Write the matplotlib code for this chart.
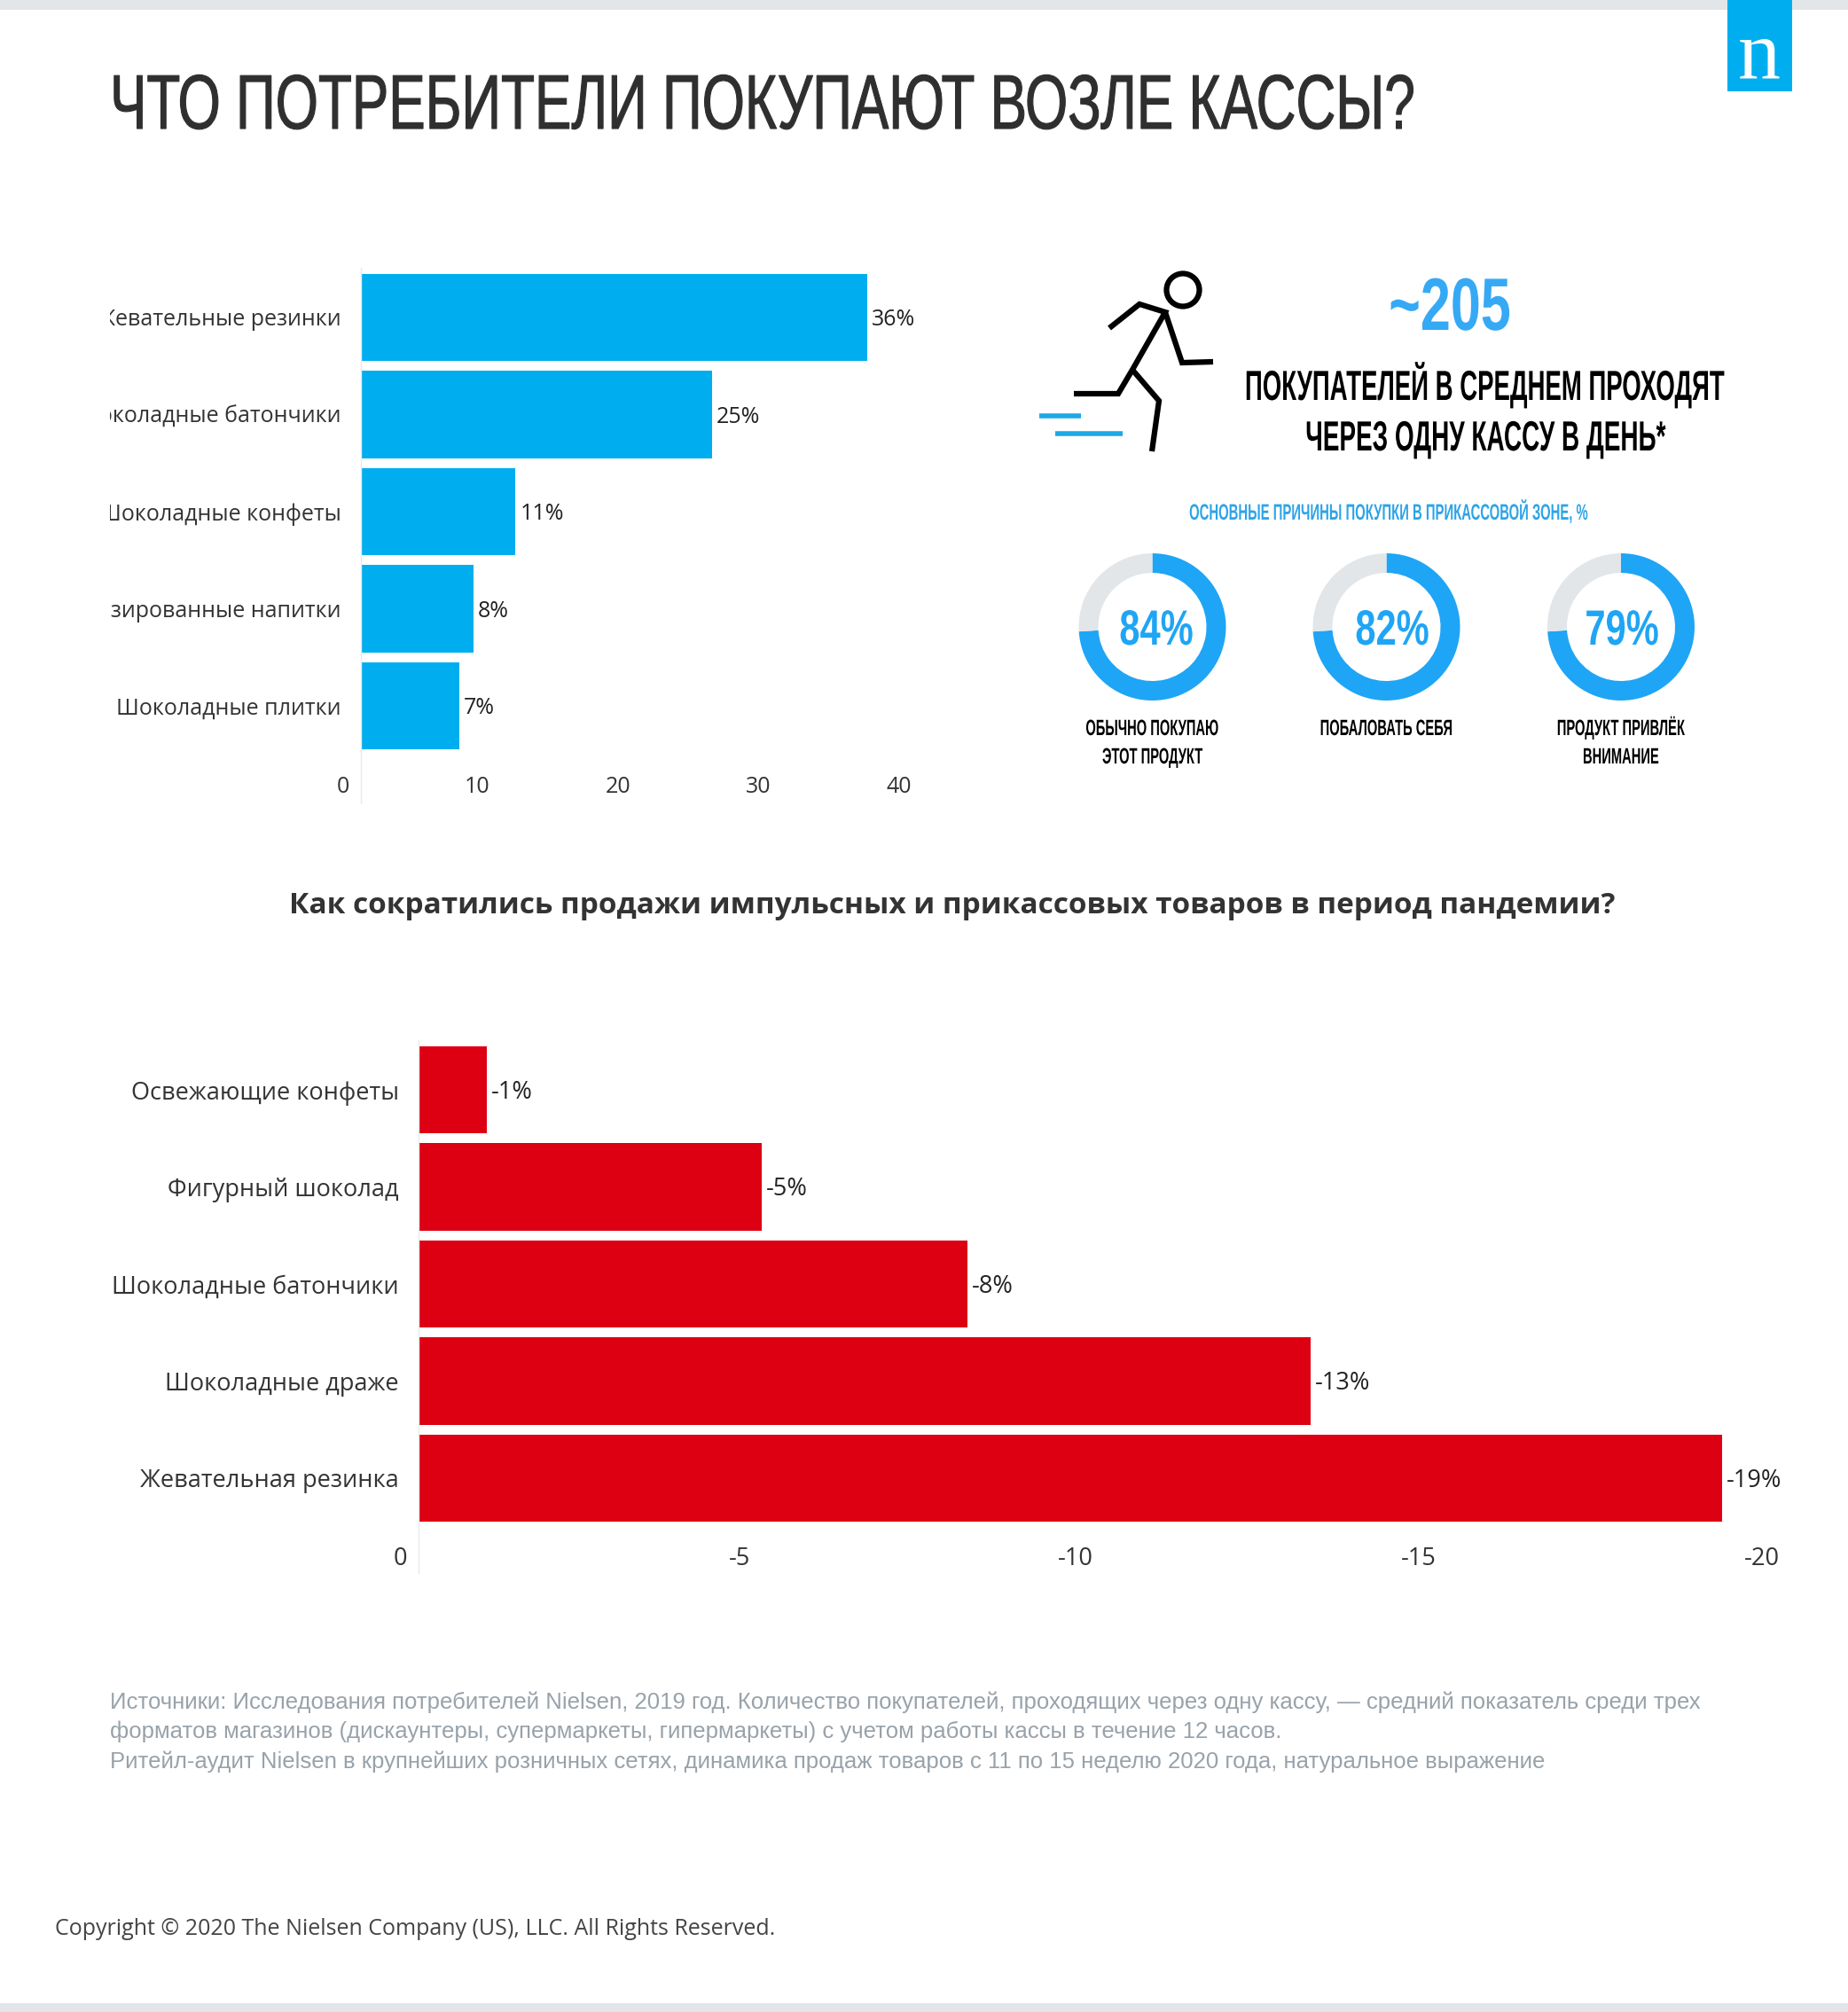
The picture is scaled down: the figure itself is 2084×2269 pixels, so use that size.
import matplotlib
matplotlib.use('Agg')
import matplotlib.pyplot as plt
import matplotlib.patheffects as pe
from matplotlib.patches import Rectangle, Circle
from matplotlib.transforms import Affine2D, Bbox, ScaledTranslation, IdentityTransform, TransformedBbox

W, H = 2084, 2269

# top chart
top_labels = ['Жевательные резинки', 'Шоколадные батончики', 'Шоколадные конфеты',
              'Газированные напитки', 'Шоколадные плитки']
top_values = [36, 25, 11, 8, 7]
top_ticks = [0, 10, 20, 30, 40]

# bottom chart
low_labels = ['Освежающие конфеты', 'Фигурный шоколад', 'Шоколадные батончики',
              'Шоколадные драже', 'Жевательная резинка']
low_values = [-1, -5, -8, -13, -19]
low_ticks = [0, -5, -10, -15, -20]

# donuts
ring_labels = ['84%', '82%', '79%']
ring_fill = [74, 74, 74]   # the rings are drawn the same in the original
ring_caption = [['ОБЫЧНО ПОКУПАЮ', 'ЭТОТ ПРОДУКТ'], ['ПОБАЛОВАТЬ СЕБЯ'], ['ПРОДУКТ ПРИВЛЁК', 'ВНИМАНИЕ']]

BLUE = '#00aeef'
RED = '#dd0012'
RING = '#1fa5f5'
SANS = 'Liberation Sans'

plt.rcParams['font.family'] = ['Open Sans', 'DejaVu Sans']

fig = plt.figure(figsize=(W / 100, H / 100), dpi=100, facecolor='white')


class Tall(pe.AbstractPathEffect):
    # no condensed font here, so small text is stretched up from its baseline
    def __init__(self, k, stroke=0):
        super().__init__()
        self.k = k
        self.stroke = stroke

    def draw_path(self, renderer, gc, tpath, affine, rgbFace=None):
        gc0 = renderer.new_gc()
        gc0.copy_properties(gc)
        gc0.set_linewidth(self.stroke)
        if self.stroke:
            gc0.set_foreground(rgbFace)
        renderer.draw_path(gc0, tpath, Affine2D().scale(1, self.k) + affine, rgbFace)
        gc0.restore()


def px_axes(x0, y0, x1, y1):
    return fig.add_axes([x0 / W, 1 - y1 / H, (x1 - x0) / W, (y1 - y0) / H])


# background layer in pixels
bg = fig.add_axes([0, 0, 1, 1], zorder=-1)
bg.set_xlim(0, W)
bg.set_ylim(H, 0)
bg.axis('off')


def tall(x, y, s, size, k, color='black', weight='bold', ha='center', stroke=0):
    bg.text(x, y, s, fontsize=size, fontweight=weight, family=SANS, color=color, ha=ha,
            va='baseline', path_effects=[Tall(k, stroke)])


bg.add_patch(Rectangle((0, 0), W, 11, color='#e2e6e9', lw=0))
bg.add_patch(Rectangle((0, 2259), W, 10, color='#e2e6e9', lw=0))
bg.add_patch(Rectangle((1948, 0), 73, 103, color=BLUE, lw=0))
bg.text(1984, 89, 'n', color='white', fontsize=69, family='Liberation Serif', ha='center', va='baseline')

tall(124, 145, 'ЧТО ПОТРЕБИТЕЛИ ПОКУПАЮТ ВОЗЛЕ КАССЫ?', 44.7, 1.4, color='#2f2f2f',
     weight='normal', ha='left', stroke=0.8)
bg.text(1074, 1022, 'Как сократились продажи импульсных и прикассовых товаров в период пандемии?',
        fontsize=24, fontweight='bold', color='#333333', ha='center', va='center')

bg.text(124, 1920, 'Источники: Исследования потребителей Nielsen, 2019 год. Количество покупателей, '
        'проходящих через одну кассу, — средний показатель среди трех', fontsize=18.5,
        family=SANS, color='#98a2aa', va='center')
bg.text(124, 1953, 'форматов магазинов (дискаунтеры, супермаркеты, гипермаркеты) с учетом работы кассы '
        'в течение 12 часов.', fontsize=18.5, family=SANS, color='#98a2aa', va='center')
bg.text(124, 1987, 'Ритейл-аудит Nielsen в крупнейших розничных сетях, динамика продаж товаров '
        'с 11 по 15 неделю 2020 года, натуральное выражение', fontsize=18.5,
        family=SANS, color='#98a2aa', va='center')
bg.text(62, 2175, 'Copyright © 2020 The Nielsen Company (US), LLC. All Rights Reserved.',
        fontsize=18, color='#444444', va='center')

# runner
runner = [([1251, 1285, 1314, 1277, 1261, 1211], [370, 343, 352, 417, 444, 444]),
          ([1314, 1333, 1368], [352, 409, 408]),
          ([1277, 1307, 1299], [417, 452, 509])]
for xs, ys in runner:
    bg.plot(xs, ys, color='black', lw=4.5, solid_joinstyle='miter', solid_capstyle='butt')
bg.add_patch(Circle((1334, 327), 18.5, fill=False, ec='black', lw=4.5))
bg.plot([1172, 1219], [469, 469], color='#1ca9e6', lw=4, solid_capstyle='butt')
bg.plot([1190, 1266], [489, 489], color='#1ca9e6', lw=4, solid_capstyle='butt')

tall(1635, 372, '~205', 44, 1.37, color='#36a9f5')
tall(1674, 451, 'ПОКУПАТЕЛЕЙ В СРЕДНЕМ ПРОХОДЯТ', 19.85, 1.72)
tall(1675, 508, 'ЧЕРЕЗ ОДНУ КАССУ В ДЕНЬ*', 20.1, 1.7)
tall(1566, 586, 'ОСНОВНЫЕ ПРИЧИНЫ ПОКУПКИ В ПРИКАССОВОЙ ЗОНЕ, %', 10.7, 1.7, color='#2ca4e8')

# donuts
ring_x = [1299.5, 1563.5, 1828]
text_x = [1304, 1570, 1829]
for cx, tx, lab, fill, cap in zip(ring_x, text_x, ring_labels, ring_fill, ring_caption):
    ax = px_axes(cx - 83, 707 - 83, cx + 83, 707 + 83)
    ax.pie([fill, 100 - fill], colors=[RING, '#e2e6e9'], startangle=90, counterclock=False,
           radius=1, wedgeprops={'width': 0.265, 'lw': 0})
    ax.set_xlim(-1, 1)
    ax.set_ylim(-1, 1)
    tall(tx, 727, lab, 30, 1.34, color=RING)
    for i, line in enumerate(cap):
        tall(cx, 829 + 32 * i, line, 10.6, 1.7)


def style_chart(ax, ticks, labels, tick_size, label_size, clip_left=None):
    for s in ['top', 'right', 'bottom']:
        ax.spines[s].set_visible(False)
    ax.spines['left'].set_color('#e8eaec')
    ax.spines['left'].set_linewidth(1)
    ax.patch.set_alpha(0)
    ax.set_xticks(ticks)
    ax.set_xticklabels(ticks)
    ax.tick_params(axis='x', length=0, pad=-21.5, labelsize=tick_size, labelcolor='#333333')
    ax.tick_params(axis='y', length=0, pad=16, labelsize=label_size, labelcolor='#333333')
    ax.set_yticks(range(len(labels)))
    ax.set_yticklabels(labels)
    # tick labels sit to the left of their tick in the original
    shift = ScaledTranslation(-13 / 100, 0, fig.dpi_scale_trans)
    for t in ax.get_xticklabels():
        t.set_ha('right')
        t.set_transform(t.get_transform() + shift)
    if clip_left is not None:
        box = TransformedBbox(Bbox([[clip_left, 0], [W, H]]), IdentityTransform())
        for t in ax.get_yticklabels():
            t.set_clip_box(box)
            t.set_clip_on(True)


def value_labels(ax, values, size):
    anns = ax.bar_label(ax.containers[0], labels=[f'{v}%' for v in values], padding=3.5,
                        fontsize=size, color='#222222')
    for a in anns:
        a.xyann = (a.xyann[0], a.xyann[1] - 2)


# top bars
ax1 = px_axes(407, 302, 1100, 905)
ax1.barh(range(5), top_values, height=0.9, color=BLUE)
ax1.set_xlim(0, 693 / 15.85)
ax1.set_ylim(4 + 109 / 109.5, -56 / 109.5)
style_chart(ax1, top_ticks, top_labels, 18, 18, clip_left=124)
value_labels(ax1, top_values, 18)

# bottom bars
ax2 = px_axes(472, 1173, 2060, 1774)
ax2.barh(range(5), low_values, height=0.9, color=RED)
ax2.set_xlim(0, -1588 / 77.37)
ax2.set_ylim(4 + 107 / 109.2, -56 / 109.2)
style_chart(ax2, low_ticks, low_labels, 19.5, 19.5)
value_labels(ax2, low_values, 19.5)

fig.savefig('out.png', dpi=100)
